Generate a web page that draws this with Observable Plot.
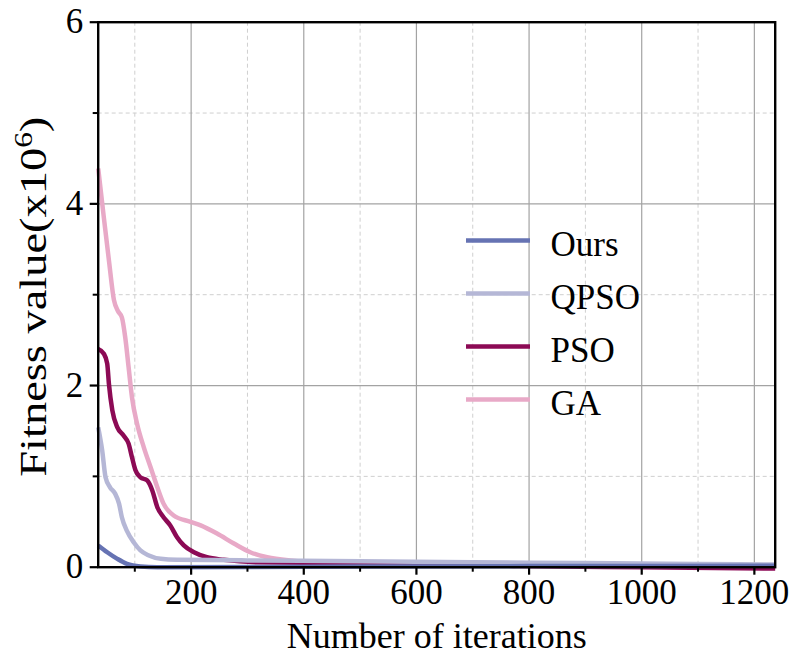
<!DOCTYPE html>
<html><head><meta charset="utf-8">
<script src="https://cdn.jsdelivr.net/npm/d3@7"></script>
<script src="https://cdn.jsdelivr.net/npm/@observablehq/plot@0.6"></script>
<style>
html,body{margin:0;padding:0;background:#fff;}
#chart svg{display:block;}
</style>
</head><body><div id="chart"></div>
<script>
// ---- data ----
const seriesNames = ["Ours", "QPSO", "PSO", "GA"];
const seriesColors = ["#6673b3", "#b5b7d6", "#8c0a55", "#e8a9c7"];

const oursX = [35, 51, 69, 86, 110, 140, 400, 800, 1237];
const oursY = [0.24, 0.165, 0.092, 0.037, 0.008, 0.0, 0.005, 0.012, 0.015];

const qpsoX = [35, 42, 48, 56, 65, 72, 77, 86, 98, 110, 125, 146, 175, 300, 500, 700, 900, 1100, 1237];
const qpsoY = [1.54, 1.29, 0.99, 0.88, 0.81, 0.70, 0.55, 0.40, 0.275, 0.184, 0.129, 0.092, 0.081, 0.075, 0.065, 0.055, 0.045, 0.035, 0.03];

const psoX = [35, 45, 51, 54, 60, 69, 80, 89, 95, 101, 110, 122, 131, 140, 151, 163, 175, 187, 205, 228, 258, 317, 500, 700, 780, 1000, 1237];
const psoY = [2.40, 2.35, 2.24, 2.02, 1.73, 1.54, 1.45, 1.36, 1.21, 1.07, 0.99, 0.955, 0.845, 0.66, 0.55, 0.46, 0.33, 0.24, 0.165, 0.11, 0.081, 0.055, 0.045, 0.035, 0.012, 0.0, -0.015];

const gaX = [35, 45, 54, 63, 70, 77, 83, 89, 95, 104, 116, 128, 140, 151, 169, 199, 217, 246, 276, 305, 335, 376, 435, 600, 800, 1000, 1237];
const gaY = [4.39, 3.85, 3.38, 2.94, 2.82, 2.75, 2.53, 2.20, 1.87, 1.58, 1.32, 1.10, 0.88, 0.70, 0.57, 0.50, 0.46, 0.37, 0.26, 0.165, 0.11, 0.074, 0.055, 0.05, 0.04, 0.03, 0.02];

const xTicks = [200, 400, 600, 800, 1000, 1200];
const xMinorTicks = [100, 300, 500, 700, 900, 1100];
const yTicks = [0, 2, 4, 6];
const yMinorTicks = [1, 3, 5];
const yMajorGrid = [2, 4];

const xLabel = "Number of iterations";
const yLabelBase = "Fitness value(x10";
const yLabelSup = "6";
const yLabelEnd = ")";

// ---- build table ----
const seriesXs = [oursX, qpsoX, psoX, gaX];
const seriesYs = [oursY, qpsoY, psoY, gaY];
const rows = [];
seriesNames.forEach((name, s) => {
  seriesXs[s].forEach((x, i) => rows.push({series: name, x, y: seriesYs[s][i]}));
});

// ---- layout ----
const W = 794, H = 660;
const mL = 97.7, mR = 19.3, mT = 21.7, mB = 93.3;
const xDomain = [35, 1237], yDomain = [0, 6];
const FONT = "'Liberation Serif', 'Times New Roman', serif";

// pixel -> data helpers for legend placement
const px2x = px => xDomain[0] + (px - mL) * (xDomain[1] - xDomain[0]) / (W - mR - mL);
const py2y = py => yDomain[0] + (H - mB - py) * (yDomain[1] - yDomain[0]) / (H - mB - mT);

const legendRows = seriesNames.map((name, i) => ({
  series: name,
  x1: px2x(466), x2: px2x(530),
  y: py2y(240 + i * 53),
  tx: px2x(550)
}));

const drawOrder = ["GA", "PSO", "QPSO", "Ours"];
const fmt = d => String(d);

const plot = Plot.plot({
  width: W, height: H,
  marginLeft: mL, marginRight: mR, marginTop: mT, marginBottom: mB,
  style: {fontFamily: FONT, fontSize: "34px", color: "#000", background: "#fff"},
  x: {domain: xDomain},
  y: {domain: yDomain},
  color: {domain: seriesNames, range: seriesColors},
  marks: [
    Plot.gridX(xMinorTicks, {stroke: "#cfcfcf", strokeOpacity: 1, strokeDasharray: "4,3", strokeWidth: 1}),
    Plot.gridY(yMinorTicks, {stroke: "#cfcfcf", strokeOpacity: 1, strokeDasharray: "4,3", strokeWidth: 1}),
    Plot.gridX(xTicks, {stroke: "#a3a3a3", strokeOpacity: 1, strokeWidth: 1.2}),
    Plot.gridY(yMajorGrid, {stroke: "#a3a3a3", strokeOpacity: 1, strokeWidth: 1.2}),
    ...drawOrder.map(name => Plot.line(rows.filter(d => d.series === name), {
      x: "x", y: "y", stroke: "series", strokeWidth: 4.5, curve: "monotone-x", strokeLinecap: "butt"
    })),
    Plot.frame({stroke: "#000", strokeWidth: 2.4}),
    Plot.axisX(xTicks, {tickSize: 8, tickPadding: 4, strokeWidth: 2.2, fontSize: 35, label: null, tickFormat: fmt}),
    Plot.axisX(xMinorTicks, {tickSize: 5, strokeWidth: 2, text: null, label: null}),
    Plot.axisY(yTicks, {tickSize: 8, tickPadding: 7, strokeWidth: 2.2, fontSize: 35, label: null, tickFormat: fmt}),
    Plot.axisY(yMinorTicks, {tickSize: 5, strokeWidth: 2, text: null, label: null}),
    // legend
    Plot.ruleY(legendRows, {x1: "x1", x2: "x2", y: "y", stroke: "series", strokeWidth: 4.5}),
    Plot.text(legendRows, {x: "tx", y: "y", text: "series", textAnchor: "start", lineAnchor: "middle", dy: 4, fontSize: 35}),
    // axis titles
    Plot.text([xLabel], {frameAnchor: "bottom", text: d => d, textAnchor: "middle", lineAnchor: "middle", dy: 69, fontSize: 36}),
    Plot.text([yLabelBase], {frameAnchor: "left", text: d => d, rotate: -90, textAnchor: "middle", lineAnchor: "middle", dx: -64, dy: 2, fontSize: 37, className: "ytitle"})
  ]
});

document.getElementById("chart").appendChild(plot);

// add superscript to y title
const yt = plot.querySelector(".ytitle text");
if (yt) {
  yt.textContent = "";
  const ns = "http://www.w3.org/2000/svg";
  const t1 = document.createElementNS(ns, "tspan"); t1.textContent = yLabelBase;
  const t2 = document.createElementNS(ns, "tspan"); t2.textContent = yLabelSup;
  t2.setAttribute("font-size", "25"); t2.setAttribute("dy", "-0.55em");
  const t3 = document.createElementNS(ns, "tspan"); t3.textContent = yLabelEnd;
  t3.setAttribute("dy", "0.36em");
  yt.appendChild(t1); yt.appendChild(t2); yt.appendChild(t3);
  yt.setAttribute("textLength", "360");
  yt.setAttribute("lengthAdjust", "spacingAndGlyphs");
}
</script>
</body></html>
